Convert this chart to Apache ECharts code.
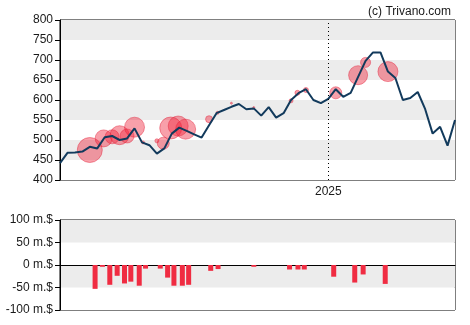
<!DOCTYPE html>
<html>
<head>
<meta charset="utf-8">
<script src="https://cdn.jsdelivr.net/npm/echarts@6/dist/echarts.min.js"></script>
<style>
  html, body { margin: 0; padding: 0; background: #fff; }
  #chart { width: 470px; height: 325px; }
</style>
</head>
<body>
<div id="chart"></div>
<script>
// Weekly closing prices, first week starting 2024-04-24
const priceStart = '2024-04-24';
const prices = [442, 468, 469, 471, 483, 479, 507, 510, 500, 504,
                529, 494, 487, 466, 479, 516, 531, 523, 514, 506,
                537, 567, 575, 583, 590, 577, 579, 561, 582, 556,
                567, 600, 617, 627, 600, 592, 603, 627, 608, 618,
                658, 698, 719, 719, 671, 655, 600, 605, 620, 577,
                516, 533, 486, 550];
const axisStart = '2024-04-24';
const axisEnd = '2025-04-30';
const yearMark = '2025-01-01';

// Insider trades: date, price, bubble diameter
const tradeDates = ['2024-05-22', '2024-06-04', '2024-06-12', '2024-06-19', '2024-06-26',
                    '2024-07-03', '2024-07-11', '2024-07-24', '2024-07-30', '2024-08-06',
                    '2024-08-13', '2024-08-20', '2024-09-11', '2024-09-19', '2024-10-02',
                    '2024-10-23', '2024-11-27', '2024-12-03', '2024-12-11', '2025-01-08',
                    '2025-01-29', '2025-02-05', '2025-02-26'];
const tradePrices = [475, 504, 508, 512, 510, 532, 494, 498, 492, 530,
                     535, 527, 552, 568, 592, 581, 598, 618, 625, 618,
                     662, 694, 671];
const tradeSizes = [25, 17, 14, 19, 14, 20, 3, 4, 12, 22,
                    20, 20, 7, 3, 2, 2, 4, 5, 5, 12,
                    19, 10, 20];

// Net insider flow per period, millions of dollars
const flowDates = ['2024-05-25', '2024-06-01', '2024-06-08', '2024-06-15', '2024-06-22',
                   '2024-06-28', '2024-07-06', '2024-07-12', '2024-07-26', '2024-08-02',
                   '2024-08-08', '2024-08-16', '2024-08-22', '2024-09-12', '2024-09-19',
                   '2024-10-23', '2024-11-26', '2024-12-04', '2024-12-10', '2025-01-07',
                   '2025-01-27', '2025-02-04', '2025-02-25'];
const flowValues = [-53, -4, -44, -24, -41, -37, -46, -8, -8, -28,
                    -46, -46, -44, -13, -9, -4, -10, -10, -10, -26,
                    -39, -21, -42];

const priceTicks = { min: 400, max: 800, step: 50 };
const flowTicks = { min: -100, max: 100, step: 50 };

function ts(s) {
  const p = s.split('-').map(Number);
  return new Date(p[0], p[1] - 1, p[2]).getTime();
}

const priceData = prices.map((v, i) => {
  const d = new Date(ts(priceStart));
  d.setDate(d.getDate() + 7 * i);
  return [d.getTime(), v];
});
const tradeData = tradeDates.map((d, i) => [ts(d), tradePrices[i], tradeSizes[i]]);
const flowData = flowDates.map((d, i) => [ts(d), flowValues[i]]);

const FONT = 'Liberation Sans, Arial, sans-serif';
const TXT = '#1a1a1a';
const stripes = ['#ffffff', '#ececec'];

const chart = echarts.init(document.getElementById('chart'), null, { renderer: 'canvas' });

chart.setOption({
  animation: false,
  backgroundColor: '#fff',
  title: {
    text: '(c) Trivano.com',
    right: 14,
    top: 1,
    textStyle: { fontFamily: FONT, fontSize: 12, fontWeight: 'normal', color: TXT }
  },
  grid: [
    { left: 60, right: 15, top: 20, height: 160, show: true, borderColor: '#000', borderWidth: 1, backgroundColor: 'transparent' },
    { left: 60, right: 15, top: 220, height: 90, show: true, borderColor: '#000', borderWidth: 1, backgroundColor: 'transparent' }
  ],
  xAxis: [
    {
      type: 'time', gridIndex: 0,
      min: ts(axisStart), max: ts(axisEnd),
      axisLine: { show: false },
      axisTick: { show: false },
      splitLine: { show: false },
      axisLabel: { show: false }
    },
    {
      type: 'time', gridIndex: 1,
      min: ts(axisStart), max: ts(axisEnd),
      axisLine: { show: true, onZero: true, lineStyle: { color: '#000', width: 1 } },
      axisTick: { show: false },
      splitLine: { show: false },
      axisLabel: { show: false }
    }
  ],
  yAxis: [
    {
      type: 'value', gridIndex: 0,
      min: priceTicks.min, max: priceTicks.max, interval: priceTicks.step,
      axisLine: { show: true, lineStyle: { color: '#000', width: 1 } },
      axisTick: { show: true, length: 5, lineStyle: { color: '#000' } },
      axisLabel: { fontFamily: FONT, fontSize: 12, color: TXT, margin: 7 },
      splitLine: { show: false },
      splitArea: { show: true, areaStyle: { color: stripes } }
    },
    {
      type: 'value', gridIndex: 1,
      min: flowTicks.min, max: flowTicks.max, interval: flowTicks.step,
      axisLine: { show: true, lineStyle: { color: '#000', width: 1 } },
      axisTick: { show: true, length: 5, lineStyle: { color: '#000' } },
      axisLabel: { fontFamily: FONT, fontSize: 12, color: TXT, margin: 7, formatter: v => v + ' m.$' },
      splitLine: { show: false },
      splitArea: { show: true, areaStyle: { color: stripes } }
    }
  ],
  series: [
    {
      type: 'scatter', xAxisIndex: 0, yAxisIndex: 0,
      data: tradeData,
      symbol: 'circle',
      symbolSize: d => d[2],
      itemStyle: { color: 'rgba(238, 38, 62, 0.55)', borderColor: 'rgba(225, 30, 55, 0.55)', borderWidth: 1 },
      z: 2
    },
    {
      type: 'line', xAxisIndex: 0, yAxisIndex: 0,
      data: priceData,
      showSymbol: false,
      lineStyle: { color: '#123a5c', width: 2 },
      z: 3,
      markLine: {
        silent: true,
        symbol: 'none',
        label: {
          show: true,
          position: 'start',
          distance: 6,
          formatter: () => String(new Date(ts(yearMark)).getFullYear()),
          fontFamily: FONT, fontSize: 12, color: TXT
        },
        lineStyle: { color: '#000', type: [1, 3], width: 1 },
        data: [{ xAxis: ts(yearMark) }]
      }
    },
    {
      type: 'bar', xAxisIndex: 1, yAxisIndex: 1,
      data: flowData,
      barWidth: 5,
      itemStyle: { color: '#f02c42' },
      z: 2
    }
  ]
});
</script>
</body>
</html>
